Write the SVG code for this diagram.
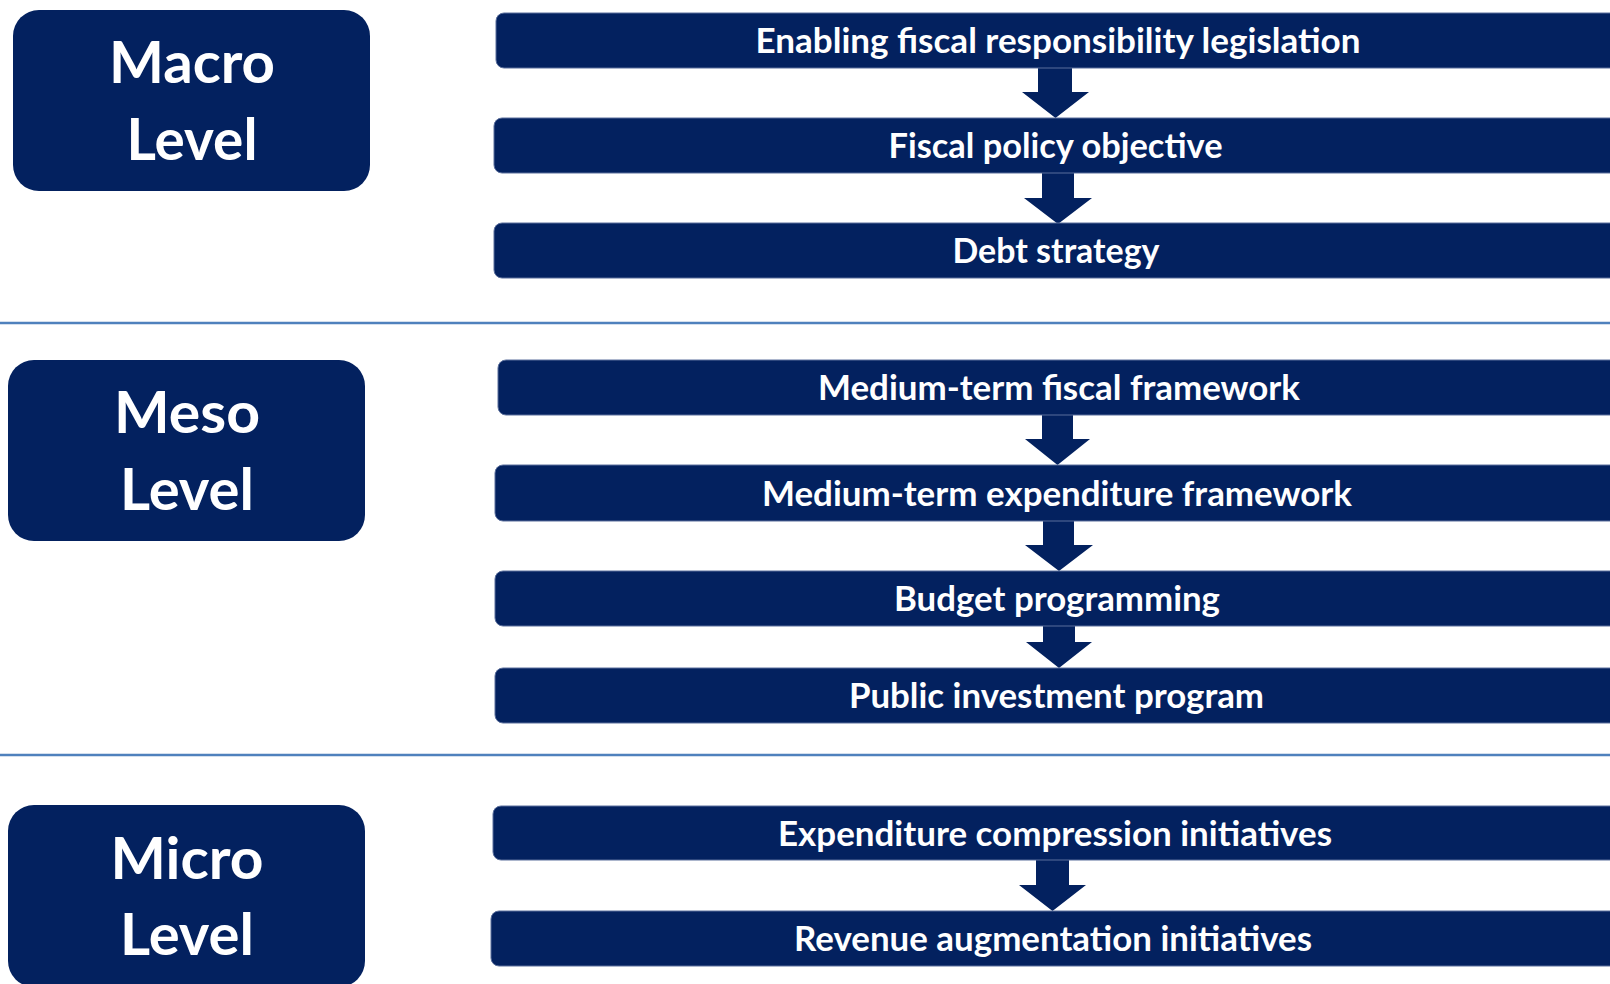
<svg xmlns="http://www.w3.org/2000/svg" width="1610" height="984" viewBox="0 0 1610 984">
<style>
.lvl{fill:#03215f}
.bar{fill:#03215f;stroke:#5b6f9c;stroke-width:1}
.lt{font-family:Lato,"Open Sans","Liberation Sans",sans-serif;font-weight:700;font-size:57px;fill:#fff;text-anchor:middle}
.bt{font-family:Lato,"Open Sans","Liberation Sans",sans-serif;font-weight:700;font-size:34px;fill:#fff;text-anchor:middle}
.div{stroke:#4f81bd;stroke-width:2.5}
.arr{fill:#03215f}
</style>
<rect width="1610" height="984" fill="#fff"/>
<g id="dividers">
<line class="div" x1="0" y1="323" x2="1610" y2="323"/>
<line class="div" x1="0" y1="755" x2="1610" y2="755"/>
</g>
<g id="macro">
<rect class="lvl" x="13" y="10" width="357" height="181" rx="26"/>
<text class="lt" x="192" y="83" textLength="166" lengthAdjust="spacingAndGlyphs">Macro</text>
<text class="lt" x="192" y="160" textLength="131" lengthAdjust="spacingAndGlyphs">Level</text>
</g>
<g id="meso">
<rect class="lvl" x="8" y="360" width="357" height="181" rx="26"/>
<text class="lt" x="187" y="433" textLength="146" lengthAdjust="spacingAndGlyphs">Meso</text>
<text class="lt" x="187" y="510" textLength="134" lengthAdjust="spacingAndGlyphs">Level</text>
</g>
<g id="micro">
<rect class="lvl" x="8" y="805" width="357" height="182" rx="26"/>
<text class="lt" x="187" y="879" textLength="153" lengthAdjust="spacingAndGlyphs">Micro</text>
<text class="lt" x="187" y="955" textLength="134" lengthAdjust="spacingAndGlyphs">Level</text>
</g>
<g id="connectors">
<polygon class="arr" points="1038,68 1072,68 1072,92 1089,92 1055.5,118 1022,92 1038,92"/>
<polygon class="arr" points="1042,173 1074,173 1074,198 1092,198 1058,224 1024,198 1042,198"/>
<polygon class="arr" points="1042,415 1073,415 1073,439 1090,439 1057.5,465 1025,439 1042,439"/>
<polygon class="arr" points="1043,521 1074,521 1074,545 1093,545 1059,571 1025,545 1043,545"/>
<polygon class="arr" points="1043,625 1075,625 1075,642 1092,642 1059,668 1026,642 1043,642"/>
<polygon class="arr" points="1036,860 1069,860 1069,885 1086,885 1052.5,911 1019,885 1036,885"/>
</g>
<g id="b1"><rect class="bar" x="496" y="13" width="1130" height="55" rx="8"/><text class="bt" x="1058" y="53" textLength="605" lengthAdjust="spacingAndGlyphs">Enabling fiscal responsibility legislation</text></g>
<g id="b2"><rect class="bar" x="494" y="118" width="1130" height="55" rx="8"/><text class="bt" x="1055.5" y="158" textLength="334" lengthAdjust="spacingAndGlyphs">Fiscal policy objective</text></g>
<g id="b3"><rect class="bar" x="494" y="223" width="1130" height="55" rx="8"/><text class="bt" x="1056" y="263" textLength="207" lengthAdjust="spacingAndGlyphs">Debt strategy</text></g>
<g id="b4"><rect class="bar" x="498" y="360" width="1130" height="55" rx="8"/><text class="bt" x="1059" y="400" textLength="482" lengthAdjust="spacingAndGlyphs">Medium-term fiscal framework</text></g>
<g id="b5"><rect class="bar" x="495" y="465" width="1130" height="56" rx="8"/><text class="bt" x="1057" y="506" textLength="590" lengthAdjust="spacingAndGlyphs">Medium-term expenditure framework</text></g>
<g id="b6"><rect class="bar" x="495" y="571" width="1130" height="55" rx="8"/><text class="bt" x="1057" y="611" textLength="326" lengthAdjust="spacingAndGlyphs">Budget programming</text></g>
<g id="b7"><rect class="bar" x="495" y="668" width="1130" height="55" rx="8"/><text class="bt" x="1056.5" y="708" textLength="415" lengthAdjust="spacingAndGlyphs">Public investment program</text></g>
<g id="b8"><rect class="bar" x="493" y="806" width="1130" height="54" rx="8"/><text class="bt" x="1055" y="846" textLength="554" lengthAdjust="spacingAndGlyphs">Expenditure compression initiatives</text></g>
<g id="b9"><rect class="bar" x="491" y="911" width="1130" height="55" rx="8"/><text class="bt" x="1053" y="951" textLength="518" lengthAdjust="spacingAndGlyphs">Revenue augmentation initiatives</text></g>
</svg>
